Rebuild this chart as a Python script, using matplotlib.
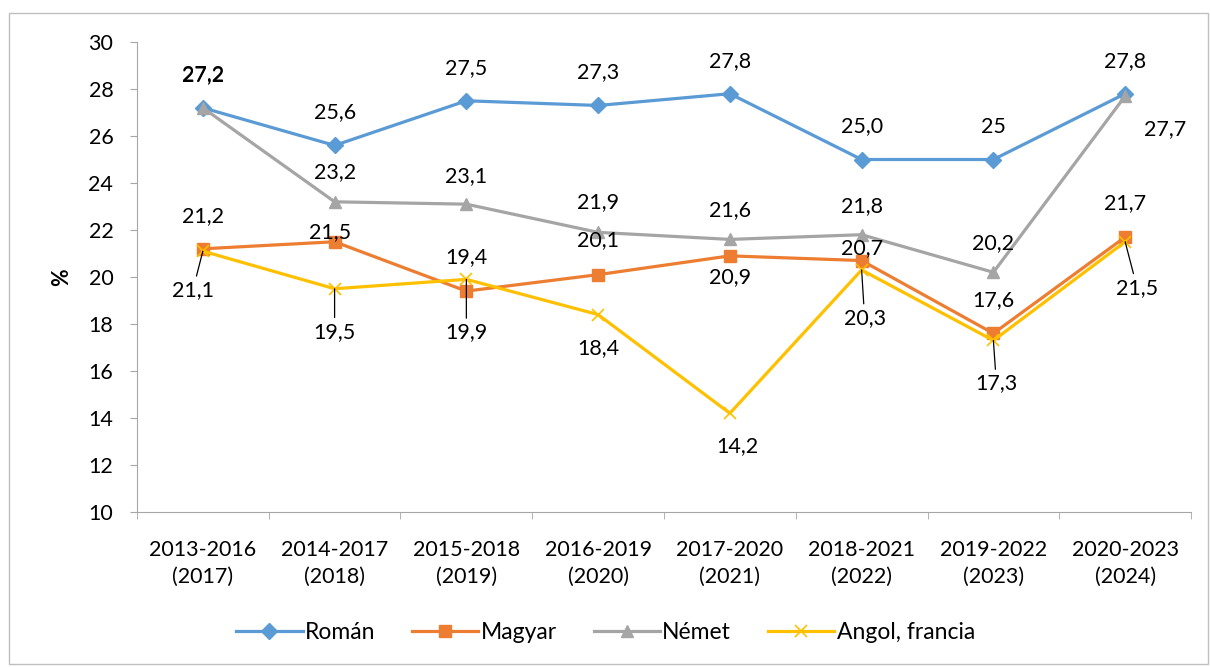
import numpy as np
import matplotlib.pyplot as plt
from matplotlib.patches import Rectangle

plt.rcParams['font.family'] = ['Lato', 'DejaVu Sans']

kategoriak = ['2013-2016\n(2017)', '2014-2017\n(2018)', '2015-2018\n(2019)', '2016-2019\n(2020)',
              '2017-2020\n(2021)', '2018-2021\n(2022)', '2019-2022\n(2023)', '2020-2023\n(2024)']

roman = [27.2, 25.6, 27.5, 27.3, 27.8, 25.0, 25.0, 27.8]
magyar = [21.2, 21.5, 19.4, 20.1, 20.9, 20.7, 17.6, 21.7]
nemet = [27.2, 23.2, 23.1, 21.9, 21.6, 21.8, 20.2, 27.7]
angol = [21.1, 19.5, 19.9, 18.4, 14.2, 20.3, 17.3, 21.5]

roman_cimke = ['27,2', '25,6', '27,5', '27,3', '27,8', '25,0', '25', '27,8']
magyar_cimke = ['21,2', '21,5', '19,4', '20,1', '20,9', '20,7', '17,6', '21,7']
nemet_cimke = ['27,2', '23,2', '23,1', '21,9', '21,6', '21,8', '20,2', '27,7']
angol_cimke = ['21,1', '19,5', '19,9', '18,4', '14,2', '20,3', '17,3', '21,5']

# cimkek eltolasa pixelben (dx, dy), es hogy kell-e vezetovonal
roman_off = [(0, 33)] * 8
nemet_off = [(0, 34), (0, 30), (0, 28), (0, 30), (0, 29), (0, 29), (0, 29), (40, -33)]
magyar_off = [(0, 33), (-5, 10), (0, 34), (0, 35), (0, -21), (0, 12), (0, 33), (0, 34)]
angol_off = [(-10, -39), (0, -43), (0, -53), (0, -33), (7, -33), (3, -48), (3, -43), (12, -46)]
angol_vonal = [True, True, True, False, False, True, True, True]

szinek = {'Román': '#5B9BD5', 'Magyar': '#ED7D31', 'Német': '#A5A5A5', 'Angol, francia': '#FFC000'}
meret = 15.5

fig = plt.figure(figsize=(12.11, 6.67), dpi=100)
ax = fig.add_axes([0.1131, 0.2324, 0.8704, 0.7046])

x = np.arange(len(kategoriak))
ax.plot(x, roman, color=szinek['Román'], lw=2.3, marker='D', ms=8, label='Román')
ax.plot(x, magyar, color=szinek['Magyar'], lw=2.3, marker='s', ms=9, label='Magyar')
ax.plot(x, nemet, color=szinek['Német'], lw=2.3, marker='^', ms=9, label='Német')
ax.plot(x, angol, color=szinek['Angol, francia'], lw=2.3, marker='x', ms=9, mew=1.2,
        label='Angol, francia')


def cimkez(ertekek, cimkek, eltolas, vonal=None):
    for i in range(len(ertekek)):
        props = None
        if vonal is not None and vonal[i]:
            props = dict(arrowstyle='-', color='black', lw=0.9, shrinkA=1, shrinkB=0)
        ax.annotate(cimkek[i], (x[i], ertekek[i]), xytext=eltolas[i], textcoords='offset pixels',
                    ha='center', va='center', fontsize=meret, arrowprops=props)


cimkez(roman, roman_cimke, roman_off)
cimkez(nemet, nemet_cimke, nemet_off)
cimkez(magyar, magyar_cimke, magyar_off)
cimkez(angol, angol_cimke, angol_off, angol_vonal)

ax.set_xlim(-0.5, 7.5)
ax.set_ylim(10, 30)
ax.set_yticks(np.arange(10, 31, 2))
ax.set_xticks(x)
ax.set_xticklabels(kategoriak, fontsize=meret, linespacing=1.45)
ax.set_xticks(np.arange(-0.5, 8, 1), minor=True)
ax.tick_params(axis='x', which='major', length=0, pad=20)
ax.tick_params(axis='x', which='minor', length=5, color='#A6A6A6', direction='out')
ax.tick_params(axis='y', length=5, color='#A6A6A6', pad=12, labelsize=meret)
ax.set_ylabel('%', fontsize=meret, fontweight='bold', labelpad=12)

for s in ['top', 'right']:
    ax.spines[s].set_visible(False)
for s in ['left', 'bottom']:
    ax.spines[s].set_color('#A6A6A6')

fig.legend(loc='center', bbox_to_anchor=(0.5, 0.051), ncol=4, frameon=False, fontsize=16.5,
           handlelength=2.9, columnspacing=1.6, handletextpad=0.1)

fig.patches.append(Rectangle((9 / 1211, 3 / 667), 1199 / 1211, 651 / 667, transform=fig.transFigure,
                             fill=False, edgecolor='#BFBFBF', lw=1))

fig.savefig('out.png', dpi=100)
